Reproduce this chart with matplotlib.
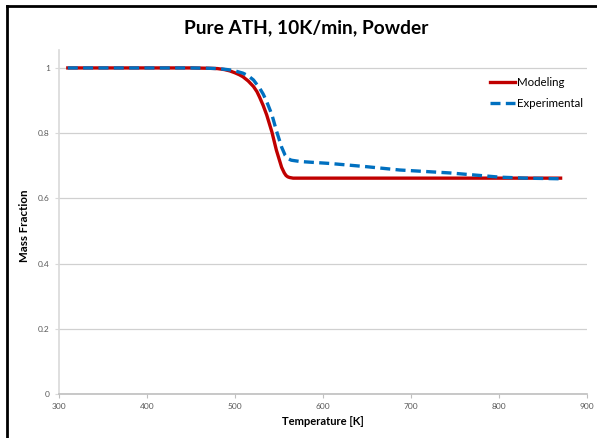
import matplotlib.pyplot as plt
from matplotlib.lines import Line2D

# data
temp_model = [310, 400, 450, 470, 480, 488, 494, 500, 505, 509, 515, 521, 525,
              528, 532, 536, 542, 547, 553, 556, 558, 560, 562, 566, 600, 700, 870]
mass_model = [1.0, 1.0, 1.0, 0.999, 0.998, 0.995, 0.991, 0.985, 0.979, 0.973,
              0.960, 0.943, 0.927, 0.910, 0.885, 0.856, 0.803, 0.748, 0.695,
              0.678, 0.670, 0.666, 0.664, 0.662, 0.662, 0.662, 0.662]

temp_exp = [310, 400, 450, 470, 480, 488, 494, 500, 509, 515, 521, 528, 532,
            536, 542, 547, 553, 557, 560, 564, 574, 585, 608, 650, 687, 744,
            801, 830, 870]
mass_exp = [1.0, 1.0, 1.0, 0.999, 0.998, 0.996, 0.994, 0.991, 0.984, 0.976,
            0.963, 0.938, 0.920, 0.897, 0.856, 0.808, 0.757, 0.732, 0.722,
            0.717, 0.713, 0.711, 0.707, 0.697, 0.687, 0.678, 0.665, 0.662, 0.66]

x_ticks = [300, 400, 500, 600, 700, 800, 900]
y_ticks = [0, 0.2, 0.4, 0.6, 0.8, 1]
y_labels = ["0", "0.2", "0.4", "0.6", "0.8", "1"]

plt.rcParams["font.family"] = ["Lato", "DejaVu Sans"]

fig = plt.figure(figsize=(5.97, 4.38), dpi=100)
ax = fig.add_axes([59 / 597, 1 - 394 / 438, 528 / 597, 344 / 438])

ax.plot(temp_model, mass_model, color="#c00000", linewidth=2.4, label="Modeling")
ax.plot(temp_exp, mass_exp, color="#0070c0", linewidth=2.4, linestyle=(0, (3, 1.6)),
        label="Experimental")

ax.set_xlim(300, 900)
ax.set_ylim(0, 1.055)
ax.set_xticks(x_ticks)
ax.set_yticks(y_ticks)
ax.set_yticklabels(y_labels)
ax.tick_params(axis="both", labelsize=6, colors="#595959", length=3, width=0.8)
ax.tick_params(axis="x", color="#bfbfbf")
ax.tick_params(axis="y", color="#d9d9d9")
ax.grid(axis="y", color="#d0d0d0", linewidth=0.9)
ax.set_axisbelow(True)

for side in ["top", "right"]:
    ax.spines[side].set_visible(False)
ax.spines["left"].set_color("#d9d9d9")
ax.spines["bottom"].set_color("#bfbfbf")
ax.spines["left"].set_linewidth(1.2)
ax.spines["bottom"].set_linewidth(1.2)

ax.set_xlabel("Temperature [K]", fontsize=8, fontweight="bold", labelpad=4)
ax.set_ylabel("Mass Fraction", fontsize=8.3, fontweight="bold")
ax.yaxis.set_label_coords(-0.055, 0.49)
fig.text(306 / 597, 1 - 28 / 438, "Pure ATH, 10K/min, Powder", fontsize=13.8,
         fontweight="bold", ha="center", va="center")

ax.legend(loc="upper left", bbox_to_anchor=((490 - 59) / 528, (394 - 77) / 344),
          bbox_transform=ax.transAxes, frameon=False, fontsize=8.3,
          borderpad=0, borderaxespad=0,
          handlelength=2.2, handletextpad=0.1, labelspacing=0.85)

# black frame of the pasted chart (only top and left edges visible)
fig.add_artist(Line2D([7 / 597, 7 / 597], [0, 1 - 6 / 438], color="black",
                      linewidth=2, transform=fig.transFigure))
fig.add_artist(Line2D([7 / 597, 1], [1 - 6 / 438, 1 - 6 / 438], color="black",
                      linewidth=2, transform=fig.transFigure))

fig.savefig("out.png", dpi=100)
